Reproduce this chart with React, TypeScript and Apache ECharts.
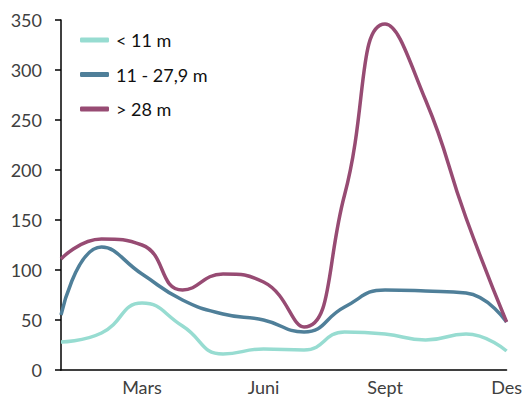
import React, { useEffect, useRef } from "react";
import * as echarts from "echarts";

const months = ["Jan", "Feb", "Mars", "April", "Mai", "Juni", "Juli", "Aug", "Sept", "Okt", "Nov", "Des"];
const seriesNames = ["< 11 m", "11 - 27,9 m", "> 28 m"];
const small = [28, 37, 67, 44, 16, 21, 20, 38, 36, 30, 36, 19];
const medium = [55, 123, 96, 70, 56, 50, 38, 63, 80, 79, 77, 48];
const large = [111, 131, 125, 80, 96, 88, 43, 175, 346, 270, 152, 48];
const colors = ["#97dcd1", "#4f7f99", "#974b73"];

export default function App() {
  const ref = useRef<HTMLDivElement>(null);
  useEffect(() => {
    if (!ref.current) return;
    const chart = echarts.init(ref.current, undefined, { renderer: "svg" });
    const data = [small, medium, large];
    chart.setOption({
      animation: false,
      grid: { left: 61, right: 18, top: 20, bottom: 27 },
      legend: {
        orient: "vertical",
        left: 75,
        top: 25,
        itemWidth: 29,
        itemHeight: 5,
        itemGap: 14.5,
        icon: "roundRect",
        textStyle: { fontFamily: "Lato", fontSize: 18, color: "#111", lineHeight: 20, padding: [0, 0, 0, 2] },
        data: seriesNames,
      },
      xAxis: {
        type: "category",
        data: months,
        boundaryGap: false,
        axisLine: { show: true, lineStyle: { color: "#000", width: 1.5 } },
        axisTick: { show: false },
        axisLabel: {
          interval: (i: number) => i % 3 === 2,
          fontFamily: "Lato",
          fontSize: 18,
          color: "#404040",
          margin: 8,
        },
        splitLine: { show: false },
      },
      yAxis: {
        type: "value",
        min: 0,
        max: 350,
        interval: 50,
        axisLine: { show: true, lineStyle: { color: "#000", width: 1.5 } },
        axisTick: { show: true, length: 6, lineStyle: { color: "#000", width: 1.5 } },
        axisLabel: { fontFamily: "Lato", fontSize: 18, color: "#404040", margin: 19 },
        splitLine: { show: false },
      },
      series: seriesNames.map((name, i) => ({
        name,
        type: "line",
        data: data[i],
        smooth: true,
        symbol: "none",
        lineStyle: { width: 3.5, color: colors[i] },
        itemStyle: { color: colors[i] },
      })),
    });
    return () => chart.dispose();
  }, []);
  return <div ref={ref} style={{ width: 525, height: 397, position: "absolute", left: 0, top: 0 }} />;
}
